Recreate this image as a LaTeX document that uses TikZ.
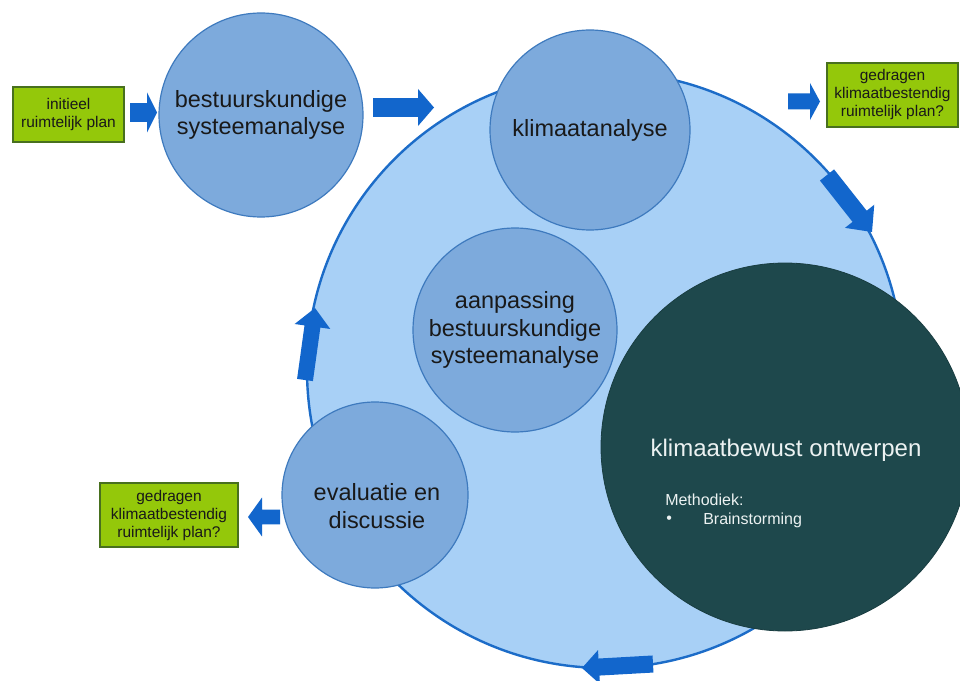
\documentclass[tikz,border=0pt]{standalone}
\usepackage{fontspec}
\setmainfont{Liberation Sans}
\usetikzlibrary{calc}

\definecolor{ringfill}{RGB}{168,208,246}
\definecolor{ringline}{RGB}{28,108,200}
\definecolor{stepfill}{RGB}{125,170,220}
\definecolor{stepline}{RGB}{62,122,190}
\definecolor{darkteal}{RGB}{30,72,76}
\definecolor{arrowblue}{RGB}{18,102,204}
\definecolor{planfill}{RGB}{148,200,10}
\definecolor{planline}{RGB}{72,112,30}
\definecolor{inktext}{RGB}{25,25,25}
\definecolor{paletext}{RGB}{236,242,242}

% block arrow from (<name>-tail) to (<name>-tip):
% #1 name, #2 shaft half width, #3 head half width, #4 head length
\newcommand\blockarrow[4]{%
  \coordinate (#1-base) at ($(#1-tip)!#4!(#1-tail)$);
  \fill[arrowblue]
    ($(#1-tail)!#2!90:(#1-tip)$) -- ($(#1-base)!#2!-90:(#1-tail)$)
    -- ($(#1-base)!#3!-90:(#1-tail)$) -- (#1-tip)
    -- ($(#1-base)!#3!90:(#1-tail)$) -- ($(#1-base)!#2!90:(#1-tail)$)
    -- ($(#1-tail)!#2!-90:(#1-tip)$) -- cycle;
}

\begin{document}
\begin{tikzpicture}[x=0.75pt,y=-0.75pt,
  stepcircle/.style={circle, inner sep=0pt, fill=stepfill, draw=stepline,
    line width=0.9pt, text=inktext, align=center,
    font=\fontsize{17.6}{20.5}\selectfont},
  steptext/.style={inner sep=0pt, text=inktext, align=center,
    font=\fontsize{17.6}{20.5}\selectfont},
  planbox/.style={rectangle, inner sep=0pt, fill=planfill, draw=planline,
    line width=1pt, text=inktext, align=center,
    font=\fontsize{11.6}{13.5}\selectfont},
  darktext/.style={text=paletext, inner sep=0pt}]

\fill[white] (0,0) rectangle (960,681);
\useasboundingbox (0,0) rectangle (960,681);

% the large cycle
\node[circle, inner sep=0pt, minimum size=447pt, fill=ringfill,
  draw=ringline, line width=1.8pt] (ring) at (605,370) {};

% process steps
\node[stepcircle, minimum size=150pt] (klim) at (590,130) {klimaatanalyse};
\node[stepcircle, minimum size=153pt] (bsa) at (261,115)
  {bestuurskundige\\systeemanalyse};
\node[stepcircle, minimum size=153pt] (aanp) at (515,330)
  {aanpassing\\bestuurskundige\\systeemanalyse};
\node[stepcircle, minimum size=139.5pt] (eval) at (375,495) {};
\node[steptext] (evaltext) at (377,506) {evaluatie en\\discussie};

% design step
\node[circle, inner sep=0pt, minimum size=276pt, fill=darkteal,
  draw=darkteal!85!black, line width=0.6pt] (ontw) at (785,447) {};
\node[darktext, font=\fontsize{18}{20}\selectfont] (ontwtitle) at (786,450)
  {klimaatbewust ontwerpen};
\node[darktext, anchor=west, font=\fontsize{12}{14}\selectfont] (methode)
  at (665,500) {Methodiek:};
\node[darktext, anchor=west, font=\fontsize{12}{14}\selectfont] (bullet)
  at (666,520) {•};
\node[darktext, anchor=west, font=\fontsize{12}{14}\selectfont] (brain)
  at (703,520) {Brainstorming};

% plan boxes
\node[planbox, minimum width=83.25pt, minimum height=41.25pt] (initplan)
  at (68.5,114.5) {initieel\\ruimtelijk plan};
\node[planbox, minimum width=98.25pt, minimum height=48pt] (planout)
  at (892.5,95) {gedragen\\klimaatbestendig\\ruimtelijk plan?};
\node[planbox, minimum width=103.5pt, minimum height=48pt] (planeval)
  at (169,515) {gedragen\\klimaatbestendig\\ruimtelijk plan?};

% arrows
\coordinate (a1-tail) at (130,112.5); \coordinate (a1-tip) at (157,112.5);
\coordinate (a2-tail) at (373,107.5); \coordinate (a2-tip) at (434,107.5);
\coordinate (a3-tail) at (788,101.5); \coordinate (a3-tip) at (820,101.5);
\coordinate (a4-tail) at (827,175);   \coordinate (a4-tip) at (872,232);
\coordinate (a5-tail) at (653,664);   \coordinate (a5-tip) at (582,668);
\coordinate (a6-tail) at (305,380);   \coordinate (a6-tip) at (315,308);
\coordinate (a7-tail) at (280,517);   \coordinate (a7-tip) at (248,517);

\blockarrow{a1}{7.1pt}{15pt}{7.5pt}
\blockarrow{a2}{7.1pt}{13.9pt}{12pt}
\blockarrow{a3}{6pt}{13.9pt}{7.5pt}
\blockarrow{a4}{6.75pt}{14pt}{15pt}
\blockarrow{a5}{6.4pt}{12.75pt}{12.75pt}
\blockarrow{a6}{6pt}{13.5pt}{14pt}
\blockarrow{a7}{5.6pt}{14.6pt}{10.5pt}

\end{tikzpicture}
\end{document}
